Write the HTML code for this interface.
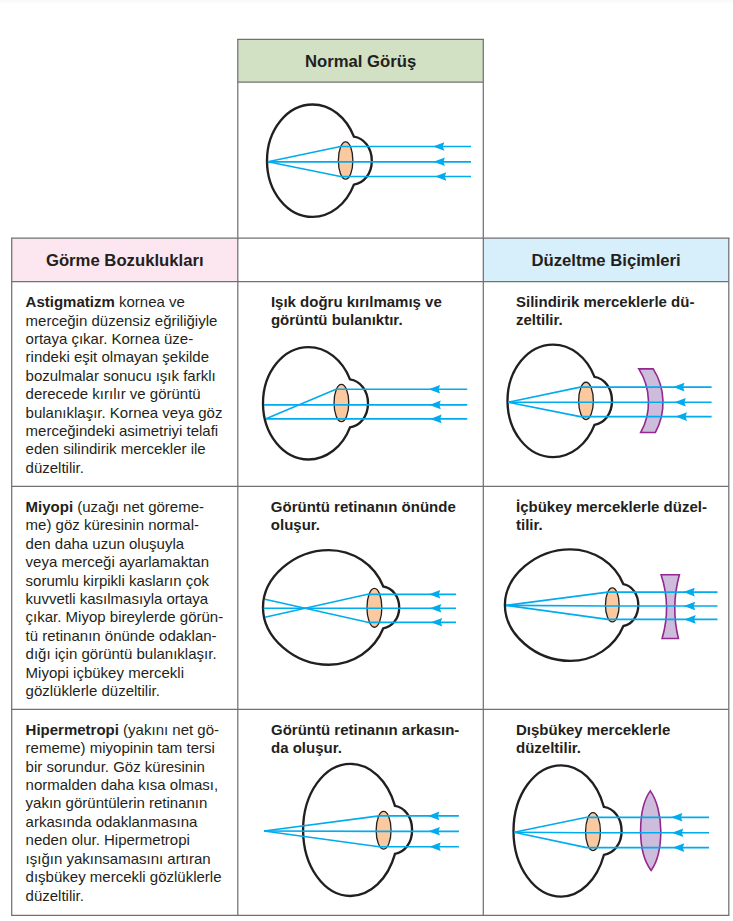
<!DOCTYPE html>
<html lang="tr">
<head>
<meta charset="utf-8">
<title>Görme Bozuklukları</title>
<style>
html,body{margin:0;padding:0;background:#fff;}
body{width:733px;height:921px;position:relative;overflow:hidden;font-family:"Liberation Sans",sans-serif;color:#231f20;}
.bg{position:absolute;}
.t{position:absolute;white-space:nowrap;margin:0;}
.b,.t b{font-weight:bold;}
.h{text-align:center;}
svg{position:absolute;left:0;top:0;}
</style>
</head>
<body>
<div class="bg" style="left:0;top:0;width:733px;height:4px;background:linear-gradient(#f8f8f8,#fff)"></div>
<div class="bg" style="left:237.80px;top:39.30px;width:245.50px;height:42.70px;background:#d2e0c4"></div>
<div class="bg" style="left:11.70px;top:238.00px;width:226.10px;height:43.50px;background:#fce6ef"></div>
<div class="bg" style="left:483.30px;top:238.00px;width:245.50px;height:43.50px;background:#d7eefb"></div>
<svg width="733" height="921" viewBox="0 0 733 921">
<g stroke="#707174" stroke-width="1.25" fill="none"><line x1="237.18" y1="39.30" x2="483.93" y2="39.30"/><line x1="237.80" y1="82.00" x2="483.30" y2="82.00"/><line x1="11.07" y1="238.00" x2="729.42" y2="238.00"/><line x1="11.70" y1="281.50" x2="728.80" y2="281.50"/><line x1="11.70" y1="486.40" x2="728.80" y2="486.40"/><line x1="11.70" y1="709.30" x2="728.80" y2="709.30"/><line x1="11.07" y1="915.30" x2="729.42" y2="915.30"/><line x1="11.70" y1="238.00" x2="11.70" y2="915.30"/><line x1="728.80" y1="238.00" x2="728.80" y2="915.30"/><line x1="237.80" y1="39.30" x2="237.80" y2="915.30"/><line x1="483.30" y1="39.30" x2="483.30" y2="915.30"/></g>
<g id="d0">
<path d="M353.90,136.70 A45.67,56.20 0 0 0 312.60,104.50 C287.42,104.50 267.00,129.66 267.00,160.70 C267.00,191.74 287.42,216.90 312.60,216.90 A45.67,56.20 0 0 0 353.90,184.70 C363.75,183.20 371.80,173.90 371.80,160.70 C371.80,147.50 363.75,138.20 353.90,136.70 Z" fill="none" stroke="#231f20" stroke-width="2.35" stroke-linejoin="miter"/>
<ellipse cx="345.6" cy="160.5" rx="7.25" ry="18.65" fill="#fbc99f" stroke="#231f20" stroke-width="1.3"/>
<polyline points="471.00,146.50 340.50,146.50 267.90,161.80" fill="none" stroke="#00abee" stroke-width="1.65" stroke-linejoin="round"/>
<path d="M432.90,146.50 L444.30,142.20 L442.80,146.50 L444.30,150.80 Z" fill="#00abee"/>
<polyline points="471.00,161.80 340.50,161.80 267.90,161.80" fill="none" stroke="#00abee" stroke-width="1.65" stroke-linejoin="round"/>
<path d="M433.50,161.80 L444.90,157.50 L443.40,161.80 L444.90,166.10 Z" fill="#00abee"/>
<polyline points="471.00,176.50 340.50,176.50 267.90,161.80" fill="none" stroke="#00abee" stroke-width="1.65" stroke-linejoin="round"/>
<path d="M434.90,176.50 L446.30,172.20 L444.80,176.50 L446.30,180.80 Z" fill="#00abee"/>
</g>
<g id="d1">
<path d="M350.00,379.30 A45.90,56.20 0 0 0 308.50,347.10 C283.37,347.10 263.00,372.26 263.00,403.30 C263.00,434.34 283.37,459.50 308.50,459.50 A45.90,56.20 0 0 0 350.00,427.30 C359.90,425.80 368.00,416.50 368.00,403.30 C368.00,390.10 359.90,380.80 350.00,379.30 Z" fill="none" stroke="#231f20" stroke-width="2.35" stroke-linejoin="miter"/>
<ellipse cx="341.4" cy="403" rx="7.35" ry="18.65" fill="#fbc99f" stroke="#231f20" stroke-width="1.3"/>
<polyline points="467.20,389.20 336.00,389.20 266.00,418.70" fill="none" stroke="#00abee" stroke-width="1.65" stroke-linejoin="round"/>
<polyline points="467.20,404.80 264.00,404.80" fill="none" stroke="#00abee" stroke-width="1.65" stroke-linejoin="round"/>
<polyline points="467.20,418.90 266.00,418.90" fill="none" stroke="#00abee" stroke-width="1.65" stroke-linejoin="round"/>
<path d="M428.70,389.20 L440.10,384.90 L438.60,389.20 L440.10,393.50 Z" fill="#00abee"/>
<path d="M429.40,404.90 L440.80,400.60 L439.30,404.90 L440.80,409.20 Z" fill="#00abee"/>
<path d="M430.20,418.90 L441.60,414.60 L440.10,418.90 L441.60,423.20 Z" fill="#00abee"/>
</g>
<g id="d2">
<path d="M594.50,376.85 A45.78,56.25 0 0 0 553.10,344.60 C527.92,344.60 507.50,369.78 507.50,400.85 C507.50,431.92 527.92,457.10 553.10,457.10 A45.78,56.25 0 0 0 594.50,424.85 C604.12,423.35 612.00,414.05 612.00,400.85 C612.00,387.65 604.12,378.35 594.50,376.85 Z" fill="none" stroke="#231f20" stroke-width="2.35" stroke-linejoin="miter"/>
<ellipse cx="586" cy="400.9" rx="7.35" ry="18.65" fill="#fbc99f" stroke="#231f20" stroke-width="1.3"/>
<path d="M638.8,368.9 L653.2,368.9 A62.5,62.5 0 0 1 655.3,432.5 L640.7,432.5 A62.5,62.5 0 0 0 638.8,368.9 Z" fill="#cdbcdc" stroke="#93288f" stroke-width="1.6" stroke-linejoin="miter"/>
<polyline points="711.60,387.10 580.20,387.10 508.20,402.20" fill="none" stroke="#00abee" stroke-width="1.65" stroke-linejoin="round"/>
<path d="M673.10,387.10 L684.50,382.80 L683.00,387.10 L684.50,391.40 Z" fill="#00abee"/>
<polyline points="711.60,402.20 580.20,402.20 508.20,402.20" fill="none" stroke="#00abee" stroke-width="1.65" stroke-linejoin="round"/>
<path d="M674.40,402.20 L685.80,397.90 L684.30,402.20 L685.80,406.50 Z" fill="#00abee"/>
<polyline points="711.60,416.60 580.20,416.60 508.20,402.20" fill="none" stroke="#00abee" stroke-width="1.65" stroke-linejoin="round"/>
<path d="M675.60,416.60 L687.00,412.30 L685.50,416.60 L687.00,420.90 Z" fill="#00abee"/>
</g>
<g id="d3">
<path d="M383.30,586.50 A58.53,57.30 0 0 0 328.80,550.10 C294.25,550.10 263.00,577.32 263.00,607.40 C263.00,637.48 294.25,664.70 328.80,664.70 A58.53,57.30 0 0 0 383.30,628.30 C392.05,626.80 399.20,618.90 399.20,607.40 C399.20,595.91 392.05,588.00 383.30,586.50 Z" fill="none" stroke="#231f20" stroke-width="2.35" stroke-linejoin="miter"/>
<ellipse cx="374.4" cy="607.8" rx="7.45" ry="19.45" fill="#fbc99f" stroke="#231f20" stroke-width="1.3"/>
<polyline points="456.00,594.30 367.70,594.30 264.90,617.30" fill="none" stroke="#00abee" stroke-width="1.65" stroke-linejoin="round"/>
<polyline points="456.00,608.20 263.60,608.20" fill="none" stroke="#00abee" stroke-width="1.65" stroke-linejoin="round"/>
<polyline points="456.00,622.30 367.70,622.30 264.90,599.20" fill="none" stroke="#00abee" stroke-width="1.65" stroke-linejoin="round"/>
<path d="M428.90,594.30 L440.30,590.00 L438.80,594.30 L440.30,598.60 Z" fill="#00abee"/>
<path d="M429.90,608.20 L441.30,603.90 L439.80,608.20 L441.30,612.50 Z" fill="#00abee"/>
<path d="M430.80,622.30 L442.20,618.00 L440.70,622.30 L442.20,626.60 Z" fill="#00abee"/>
</g>
<g id="d4">
<path d="M623.40,584.20 A57.27,55.80 0 0 0 570.30,549.30 C535.96,549.30 504.90,575.80 504.90,605.10 C504.90,634.39 535.96,660.90 570.30,660.90 A57.27,55.80 0 0 0 623.40,626.00 C631.59,624.50 638.30,616.59 638.30,605.10 C638.30,593.60 631.59,585.70 623.40,584.20 Z" fill="none" stroke="#231f20" stroke-width="2.35" stroke-linejoin="miter"/>
<ellipse cx="612.3" cy="604.9" rx="6.85" ry="17.05" fill="#fbc99f" stroke="#231f20" stroke-width="1.3"/>
<path d="M661.1,574.7 L679.4,574.7 A128,128 0 0 0 678.4,638.5 L662.1,638.5 A108,108 0 0 0 661.1,574.7 Z" fill="#cdbcdc" stroke="#93288f" stroke-width="1.6" stroke-linejoin="miter"/>
<polyline points="717.50,592.10 607.70,592.10 506.10,605.40" fill="none" stroke="#00abee" stroke-width="1.65" stroke-linejoin="round"/>
<path d="M683.40,592.10 L694.80,587.80 L693.30,592.10 L694.80,596.40 Z" fill="#00abee"/>
<polyline points="717.50,606.00 607.70,606.00 506.10,605.40" fill="none" stroke="#00abee" stroke-width="1.65" stroke-linejoin="round"/>
<path d="M683.80,606.00 L695.20,601.70 L693.70,606.00 L695.20,610.30 Z" fill="#00abee"/>
<polyline points="717.50,619.40 607.70,619.40 506.10,605.40" fill="none" stroke="#00abee" stroke-width="1.65" stroke-linejoin="round"/>
<path d="M684.30,619.40 L695.70,615.10 L694.20,619.40 L695.70,623.70 Z" fill="#00abee"/>
</g>
<g id="d5">
<path d="M395.00,805.90 A47.76,66.10 0 0 0 350.50,763.80 C324.32,763.80 303.10,793.39 303.10,829.90 C303.10,866.41 324.32,896.00 350.50,896.00 A47.76,66.10 0 0 0 395.00,853.90 C404.41,852.40 412.10,843.10 412.10,829.90 C412.10,816.70 404.41,807.40 395.00,805.90 Z" fill="none" stroke="#231f20" stroke-width="2.35" stroke-linejoin="miter"/>
<ellipse cx="383.6" cy="830.3" rx="7.45" ry="18.85" fill="#fbc99f" stroke="#231f20" stroke-width="1.3"/>
<polyline points="458.90,815.90 379.10,815.90 264.00,831.00" fill="none" stroke="#00abee" stroke-width="1.65" stroke-linejoin="round"/>
<path d="M428.00,815.90 L439.40,811.60 L437.90,815.90 L439.40,820.20 Z" fill="#00abee"/>
<polyline points="458.90,831.30 379.10,831.30 264.00,831.00" fill="none" stroke="#00abee" stroke-width="1.65" stroke-linejoin="round"/>
<path d="M428.50,831.30 L439.90,827.00 L438.40,831.30 L439.90,835.60 Z" fill="#00abee"/>
<polyline points="458.90,846.70 379.10,846.70 264.00,831.00" fill="none" stroke="#00abee" stroke-width="1.65" stroke-linejoin="round"/>
<path d="M429.30,846.70 L440.70,842.40 L439.20,846.70 L440.70,851.00 Z" fill="#00abee"/>
</g>
<g id="d6">
<path d="M603.90,806.95 A45.77,65.65 0 0 0 561.30,765.30 C534.90,765.30 513.50,794.69 513.50,830.95 C513.50,867.21 534.90,896.60 561.30,896.60 A45.77,65.65 0 0 0 603.90,854.95 C613.63,853.45 621.60,844.15 621.60,830.95 C621.60,817.75 613.63,808.45 603.90,806.95 Z" fill="none" stroke="#231f20" stroke-width="2.35" stroke-linejoin="miter"/>
<ellipse cx="593" cy="831.6" rx="7.45" ry="18.95" fill="#fbc99f" stroke="#231f20" stroke-width="1.3"/>
<path d="M650.3,790.9 C656.6,799.6 660.8,815 660.8,830.8 C660.8,846.6 657.4,861.8 651.1,870.5 C644.6,861.8 640.6,846.6 640.6,830.8 C640.6,815 644.1,799.6 650.3,790.9 Z" fill="#cdbcdc" stroke="#93288f" stroke-width="1.6" stroke-linejoin="miter"/>
<polyline points="709.10,817.30 586.70,817.30 514.10,832.20" fill="none" stroke="#00abee" stroke-width="1.65" stroke-linejoin="round"/>
<path d="M671.00,817.30 L682.40,813.00 L680.90,817.30 L682.40,821.60 Z" fill="#00abee"/>
<polyline points="709.10,832.70 586.70,832.70 514.10,832.20" fill="none" stroke="#00abee" stroke-width="1.65" stroke-linejoin="round"/>
<path d="M671.90,832.70 L683.30,828.40 L681.80,832.70 L683.30,837.00 Z" fill="#00abee"/>
<polyline points="709.10,847.60 586.70,847.60 514.10,832.20" fill="none" stroke="#00abee" stroke-width="1.65" stroke-linejoin="round"/>
<path d="M672.90,847.60 L684.30,843.30 L682.80,847.60 L684.30,851.90 Z" fill="#00abee"/>
</g>
</svg>
<div class="t b h" style="left:210.55px;width:300px;top:51.51px;font-size:16.7px;line-height:20px">Normal Görüş</div>
<div class="t b h" style="left:-25.25px;width:300px;top:251.21px;font-size:16.7px;line-height:20px">Görme Bozuklukları</div>
<div class="t b h" style="left:456.04999999999995px;width:300px;top:251.11px;font-size:16.7px;line-height:20px">Düzeltme Biçimleri</div>
<div class="t" style="left:25.6px;top:293.10px;font-size:15.0px;line-height:18.41px"><b>Astigmatizm</b> kornea ve<br>merceğin düzensiz eğriliğiyle<br>ortaya çıkar. Kornea üze-<br>rindeki eşit olmayan şekilde<br>bozulmalar sonucu ışık farklı<br>derecede kırılır ve görüntü<br>bulanıklaşır. Kornea veya göz<br>merceğindeki asimetriyi telafi<br>eden silindirik mercekler ile<br>düzeltilir.</div>
<div class="t" style="left:25.6px;top:497.90px;font-size:15.0px;line-height:18.41px"><b>Miyopi</b> (uzağı net göreme-<br>me) göz küresinin normal-<br>den daha uzun oluşuyla<br>veya merceği ayarlamaktan<br>sorumlu kirpikli kasların çok<br>kuvvetli kasılmasıyla ortaya<br>çıkar. Miyop bireylerde görün-<br>tü retinanın önünde odaklan-<br>dığı için görüntü bulanıklaşır.<br>Miyopi içbükey mercekli<br>gözlüklerle düzeltilir.</div>
<div class="t" style="left:25.6px;top:720.85px;font-size:15.0px;line-height:18.41px"><b>Hipermetropi</b> (yakını net gö-<br>rememe) miyopinin tam tersi<br>bir sorundur. Göz küresinin<br>normalden daha kısa olması,<br>yakın görüntülerin retinanın<br>arkasında odaklanmasına<br>neden olur. Hipermetropi<br>ışığın yakınsamasını artıran<br>dışbükey mercekli gözlüklerle<br>düzeltilir.</div>
<div class="t b" style="left:270.9px;top:292.90px;font-size:15.0px;line-height:18.41px">Işık doğru kırılmamış ve<br>görüntü bulanıktır.</div>
<div class="t b" style="left:270.8px;top:497.80px;font-size:15.0px;line-height:18.41px">Görüntü retinanın önünde<br>oluşur.</div>
<div class="t b" style="left:271px;top:720.80px;font-size:15.0px;line-height:18.41px">Görüntü retinanın arkasın-<br>da oluşur.</div>
<div class="t b" style="left:516px;top:292.90px;font-size:15.0px;line-height:18.41px">Silindirik merceklerle dü-<br>zeltilir.</div>
<div class="t b" style="left:516px;top:497.90px;font-size:15.0px;line-height:18.41px">İçbükey merceklerle düzel-<br>tilir.</div>
<div class="t b" style="left:516px;top:720.80px;font-size:15.0px;line-height:18.41px">Dışbükey merceklerle<br>düzeltilir.</div>
</body>
</html>
